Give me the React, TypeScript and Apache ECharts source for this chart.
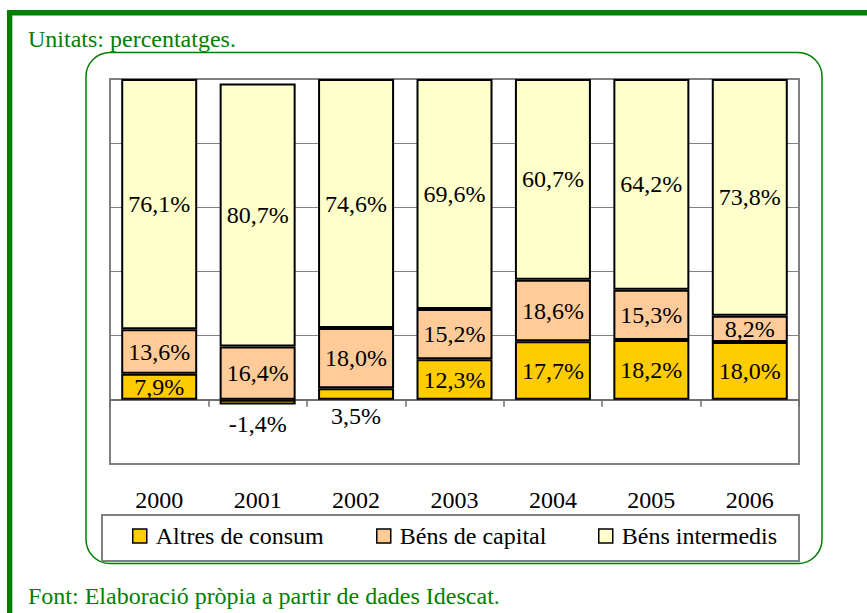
import React, { useEffect, useRef } from "react";
import * as echarts from "echarts";

const years = ["2000", "2001", "2002", "2003", "2004", "2005", "2006"];
const altresConsum = [7.9, -1.4, 3.5, 12.3, 17.7, 18.2, 18.0];
const bensCapital = [13.6, 16.4, 18.0, 15.2, 18.6, 15.3, 8.2];
const bensIntermedis = [76.1, 80.7, 74.6, 69.6, 60.7, 64.2, 73.8];
const seriesNames = ["Altres de consum", "Béns de capital", "Béns intermedis"];
const seriesColors = ["#FFCC00", "#FFCC99", "#FFFFCC"];
const yTicks = { min: -20, max: 100, interval: 20 };

const FONT = "Liberation Serif";
const GREEN = "#008000";

export default function App() {
  const ref = useRef<HTMLDivElement>(null);

  useEffect(() => {
    if (!ref.current) return;
    const chart = echarts.init(ref.current, undefined, { renderer: "svg" });

    const raw = [altresConsum, bensCapital, bensIntermedis];
    // 100% stacked: each value as a share of the year's absolute total
    const totals = years.map((_, i) =>
      raw.reduce((s, arr) => s + Math.abs(arr[i]), 0)
    );
    const fmt = (v: number) => v.toFixed(1).replace(".", ",") + "%";

    const series = raw.map((arr, si) => ({
      name: seriesNames[si],
      type: "bar",
      stack: "total",
      barWidth: 76,
      xAxisIndex: 0,
      itemStyle: { color: seriesColors[si], borderColor: "#000", borderWidth: 2 },
      label: {
        show: true,
        position: "inside",
        fontFamily: FONT,
        fontSize: 24,
        color: "#000",
        formatter: (p: any) => fmt(arr[p.dataIndex]),
      },
      data: arr.map((v, i) => {
        const item: any = { value: (v / totals[i]) * 100 };
        if (si === 0 && Math.abs((v / totals[i]) * 100) < 5) {
          item.label = { offset: [0, 22] };
        }
        return item;
      }),
    }));

    const legendX = [132, 376, 598];

    chart.setOption({
      animation: false,
      textStyle: { fontFamily: FONT },
      grid: { left: 110, right: 68, top: 79, bottom: 149, show: true, borderColor: "#808080", borderWidth: 2, backgroundColor: "#fff" },
      xAxis: [
        {
          type: "category",
          data: years,
          position: "bottom",
          axisLine: { show: true, onZero: true, lineStyle: { color: "#707070", width: 2 } },
          axisTick: { show: true, length: 7, lineStyle: { color: "#707070", width: 1.5 } },
          axisLabel: { show: false },
        },
        {
          type: "category",
          data: years,
          position: "bottom",
          axisLine: { show: false, onZero: false },
          axisTick: { show: false },
          axisLabel: { show: true, margin: 24, fontFamily: FONT, fontSize: 24, color: "#000" },
        },
      ],
      yAxis: {
        type: "value",
        min: yTicks.min,
        max: yTicks.max,
        interval: yTicks.interval,
        axisLine: { show: false },
        axisTick: { show: false },
        axisLabel: { show: false },
        splitLine: { show: true, lineStyle: { color: "#808080", width: 1 } },
      },
      legend: seriesNames.map((n, i) => ({
        data: [n],
        left: legendX[i],
        top: 524,
        padding: 0,
        itemWidth: 14,
        itemHeight: 14,
        icon: "rect",
        itemStyle: { borderColor: "#000", borderWidth: 1.5 },
        textStyle: { fontFamily: FONT, fontSize: 24, color: "#000", padding: [0, 0, 0, 4] },
        selectedMode: false,
      })),
      graphic: [
        { type: "rect", shape: { x: 7, y: 10, width: 870, height: 5.5 }, style: { fill: GREEN }, silent: true },
        { type: "rect", shape: { x: 7, y: 10, width: 5.3, height: 610 }, style: { fill: GREEN }, silent: true },
        { type: "rect", z: -10, shape: { x: 86, y: 52.5, width: 736, height: 511, r: 24 }, style: { fill: "none", stroke: GREEN, lineWidth: 1.5 }, silent: true },
        { type: "rect", shape: { x: 102, y: 515, width: 697, height: 46 }, style: { fill: "none", stroke: "#808080", lineWidth: 2 }, silent: true },
        { type: "text", x: 28, y: 39, style: { text: "Unitats: percentatges.", fill: GREEN, fontFamily: FONT, fontSize: 24, verticalAlign: "middle" }, silent: true },
        { type: "text", x: 28, y: 596, style: { text: "Font: Elaboració pròpia a partir de dades Idescat.", fill: GREEN, fontFamily: FONT, fontSize: 24, verticalAlign: "middle" }, silent: true },
      ],
      series,
    });

    return () => chart.dispose();
  }, []);

  return <div ref={ref} style={{ position: "fixed", left: 0, top: 0, width: 867, height: 613, background: "#fff" }} />;
}
